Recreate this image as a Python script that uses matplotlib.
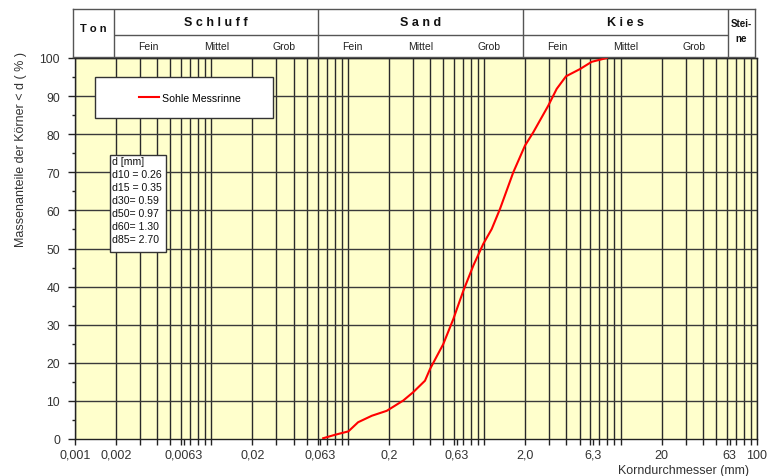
import matplotlib
matplotlib.use("Agg")
import matplotlib.pyplot as plt
from matplotlib.patches import Rectangle
from matplotlib.ticker import FixedLocator, NullFormatter

plt.rcParams['font.family'] = ['Liberation Sans', 'DejaVu Sans']

# ---- data ----
diam = [0.066, 0.0805, 0.101, 0.119, 0.150, 0.193, 0.255, 0.302, 0.368, 0.401,
        0.501, 0.594, 0.703, 0.832, 0.984, 1.135, 1.306, 1.634, 1.99, 2.29,
        2.95, 3.40, 3.98, 5.04, 6.14, 7.91]
passing = [0.2, 1.1, 2.0, 4.4, 6.1, 7.4, 10.1, 12.3, 15.3, 18.4,
           24.9, 31.5, 38.9, 45.5, 51.2, 55.1, 60.4, 70.0, 77.0, 80.5,
           87.5, 91.9, 95.2, 97.1, 99.0, 100.0]
series_name = "Sohle Messrinne"

xtick_vals = [0.001, 0.002, 0.0063, 0.02, 0.063, 0.2, 0.63, 2.0, 6.3, 20, 63, 100]
xtick_labels = ["0,001", "0,002", "0,0063", "0,02", "0,063", "0,2", "0,63",
                "2,0", "6,3", "20", "63", "100"]
grid_x = [k * 10.0 ** n for n in range(-3, 2) for k in range(1, 10)] + [100.0]

class_bounds = [0.002, 0.063, 2.0, 63]
main_classes = [("T o n", 0.00141), ("S c h l u f f", 0.0112), ("S a n d", 0.355),
                ("K i e s", 11.2)]
sub_bounds = [(0.002, 0.063), (0.063, 2.0), (2.0, 63)]
sub_names = ["Fein", "Mittel", "Grob"]

stats_text = "d [mm]\nd10 = 0.26\nd15 = 0.35\nd30= 0.59\nd50= 0.97\nd60= 1.30\nd85= 2.70"

# ---- figure ----
W, H = 768, 477
fig = plt.figure(figsize=(W / 100, H / 100), dpi=100)
fig.patch.set_facecolor('white')

ax = fig.add_axes([75 / W, 37 / H, 682 / W, 381 / H])
ax.set_facecolor('#FFFFCC')
ax.set_xscale('log')
ax.set_xlim(0.001, 100)
ax.set_ylim(0, 100)

for gx in grid_x:
    ax.axvline(gx, color='#2a2a2a', lw=1.0, zorder=1)
for gy in range(10, 101, 10):
    ax.axhline(gy, color='#3a3a3a', lw=1.0, zorder=1)

ax.plot(diam, passing, color='#FF0000', lw=1.5, zorder=3, label=series_name)

ax.xaxis.set_major_locator(FixedLocator(xtick_vals))
ax.set_xticklabels(xtick_labels)
ax.xaxis.set_minor_locator(FixedLocator(grid_x))
ax.xaxis.set_minor_formatter(NullFormatter())
ax.set_yticks(range(0, 101, 10))
ax.set_yticks(range(5, 100, 10), minor=True)
ax.tick_params(axis='x', which='both', direction='out', length=4, width=1,
               colors='#222222', labelsize=9, pad=3)
ax.tick_params(axis='y', which='major', direction='out', length=5, width=1,
               colors='#222222', labelsize=8.7, pad=5.8)
ax.tick_params(axis='y', which='minor', direction='out', length=2.2, width=1,
               colors='#222222')
for lbl in ax.get_xticklabels() + ax.get_yticklabels():
    lbl.set_color('#333333')
for s in ax.spines.values():
    s.set_color('#222222')
    s.set_linewidth(1.0)

# legend box
ax.add_patch(Rectangle((0.0293, 0.8425), 0.261, 0.1075, transform=ax.transAxes,
                       facecolor='white', edgecolor='#333333', lw=1, zorder=4))
leg = ax.legend(loc='center', bbox_to_anchor=(0.168, 0.896), frameon=False,
                fontsize=7.6, handlelength=1.9, handletextpad=0.3)
leg.set_zorder(5)

# stats box
ax.add_patch(Rectangle((0.0513, 0.4908), 0.0821, 0.2546, transform=ax.transAxes,
                       facecolor='white', edgecolor='#333333', lw=1, zorder=4))
ax.text(0.0545, 0.742, stats_text, transform=ax.transAxes, fontsize=7.6,
        va='top', ha='left', linespacing=1.37, color='#111111', zorder=5)

# ---- header table ----
hx = fig.add_axes([73 / W, 419 / H, 682 / W, 48 / H])
hx.set_xscale('log')
hx.set_xlim(0.001, 100)
hx.set_ylim(0, 1)
hx.set_facecolor('white')
hx.set_xticks([])
hx.set_yticks([])
hx.xaxis.set_minor_locator(FixedLocator([]))
for s in hx.spines.values():
    s.set_color('#555555')
    s.set_linewidth(1.0)
row_y = 22 / 48
hx.vlines(class_bounds, 0, 1, color='#555555', lw=1.0)
hx.hlines(row_y, class_bounds[0], class_bounds[-1], color='#555555', lw=1.0)

for name, xc in main_classes:
    is_ton = name.startswith("T")
    hx.text(xc, 0.604 if is_ton else 0.729, name, ha='center', va='center',
            fontsize=8 if is_ton else 9, fontweight='bold', color='#111111')
hx.text(79.4, 0.56, "Stei-\nne", ha='center', va='center', fontsize=7,
        fontweight='bold', linespacing=1.6, color='#111111')

for lo, hi in sub_bounds:
    r = (hi / lo) ** (1 / 3)
    edges = [lo, lo * r, lo * r * r, hi]
    for i, nm in enumerate(sub_names):
        xc = (edges[i] * edges[i + 1]) ** 0.5
        hx.text(xc, 0.229, nm, ha='center', va='center', fontsize=7.5, color='#222222')

# ---- axis titles ----
fig.text(21 / W, 1 - 150 / H, "Massenanteile der Körner < d ( % )", rotation=90,
         ha='center', va='center', fontsize=9, color='#333333')
fig.text(683 / W, 1 - 471 / H, "Korndurchmesser (mm)", ha='center', va='center',
         fontsize=9, color='#333333')

fig.savefig("out.png", dpi=100, facecolor='white')
